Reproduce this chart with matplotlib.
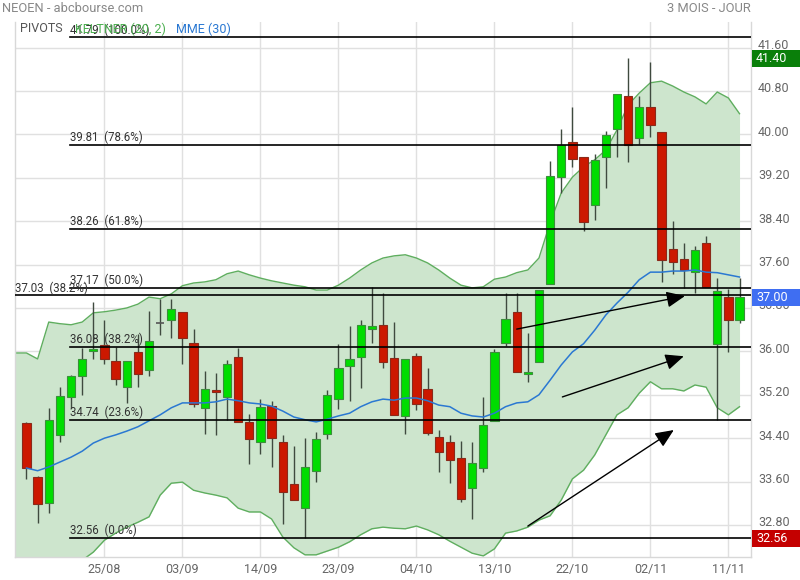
import matplotlib
matplotlib.use('Agg')
import matplotlib.pyplot as plt
import numpy as np
from matplotlib.patches import Rectangle
from matplotlib.transforms import ScaledTranslation, blended_transform_factory

plt.rcParams['font.family'] = ['Roboto', 'DejaVu Sans']

# ---------------- data ----------------
dates = ['25/08', '03/09', '14/09', '23/09', '04/10', '13/10', '22/10', '02/11', '11/11']
date_idx = [7, 14, 21, 28, 35, 42, 49, 56, 63]

opens = [34.68, 33.68, 33.21, 34.46, 35.16, 35.55, 36.01, 36.12, 35.82, 35.34,
         35.99, 35.66, 36.52, 36.58, 36.73, 36.15, 34.96, 35.29, 35.16, 35.90,
         34.70, 34.33, 34.99, 34.33, 33.56, 33.11, 33.80, 34.48, 35.12, 35.73,
         35.90, 36.41, 36.49, 35.88, 34.81, 35.91, 35.31, 34.42, 34.33, 34.03,
         33.48, 33.85, 34.72, 36.15, 36.73, 35.59, 35.80, 37.24, 39.21, 39.86,
         39.58, 38.70, 39.58, 40.10, 40.71, 39.93, 40.50, 40.04, 37.89, 37.70,
         37.46, 38.00, 36.14, 37.00, 36.58]
highs = [34.70, 33.70, 34.96, 35.34, 35.56, 36.06, 36.91, 36.58, 36.08, 35.83,
         36.32, 36.74, 36.97, 36.97, 36.73, 36.41, 35.64, 35.60, 35.84, 36.06,
         34.85, 35.12, 35.09, 34.46, 34.26, 34.40, 34.51, 35.29, 36.14, 36.47,
         36.58, 37.19, 37.08, 36.54, 35.86, 35.97, 35.69, 34.55, 34.46, 34.35,
         34.33, 35.16, 36.04, 37.08, 37.08, 36.34, 37.13, 39.51, 40.10, 40.50,
         39.58, 39.64, 40.06, 40.74, 41.40, 40.71, 41.33, 40.04, 38.40, 38.00,
         37.94, 38.13, 37.35, 37.15, 37.35]
lows = [33.65, 32.84, 33.02, 34.33, 34.96, 35.20, 35.86, 35.77, 35.38, 35.05,
        35.34, 35.55, 36.30, 36.25, 35.77, 34.97, 34.48, 34.46, 34.74, 34.70,
        33.92, 34.11, 33.87, 32.82, 33.26, 32.56, 33.59, 34.38, 34.94, 35.09,
        35.32, 36.15, 35.69, 34.83, 34.48, 34.92, 34.46, 33.78, 33.57, 33.22,
        32.91, 33.78, 34.72, 36.10, 35.62, 35.44, 35.80, 37.24, 38.92, 39.40,
        38.22, 38.42, 39.01, 39.58, 39.49, 39.82, 39.95, 37.28, 37.43, 37.17,
        37.08, 37.19, 34.74, 35.99, 36.52]
closes = [33.85, 33.19, 34.73, 35.18, 35.55, 35.86, 36.04, 35.86, 35.49, 35.82,
          35.58, 36.19, 36.52, 36.78, 36.25, 35.03, 35.31, 35.25, 35.77, 34.70,
          34.38, 34.97, 34.40, 33.41, 33.26, 33.87, 34.38, 35.20, 35.69, 35.86,
          36.49, 36.47, 35.80, 34.83, 35.86, 35.03, 34.50, 34.15, 34.00, 33.28,
          33.94, 34.64, 35.99, 36.60, 35.62, 35.61, 37.13, 39.23, 39.80, 39.55,
          38.38, 39.53, 39.99, 40.74, 39.80, 40.50, 40.17, 37.68, 37.65, 37.50,
          37.87, 37.19, 37.11, 36.58, 37.00]

# Keltner (20, 2) band, from the session before the first candle
keltner_upper = [35.97, 35.97, 35.86, 36.54, 36.51, 36.49, 36.54, 36.71, 36.73, 36.76,
                 36.80, 36.87, 37.00, 36.97, 37.06, 37.21, 37.26, 37.28, 37.32, 37.43,
                 37.48, 37.41, 37.35, 37.30, 37.26, 37.22, 37.19, 37.13, 37.13, 37.22,
                 37.35, 37.50, 37.63, 37.72, 37.76, 37.78, 37.72, 37.63, 37.50, 37.35,
                 37.22, 37.17, 37.19, 37.33, 37.37, 37.45, 37.50, 37.72, 38.37, 38.92,
                 39.21, 39.40, 39.53, 39.71, 40.08, 40.54, 40.76, 40.95, 40.98, 40.89,
                 40.78, 40.69, 40.56, 40.78, 40.67, 40.38]
keltner_lower = [31.30, 31.45, 31.60, 31.75, 31.90, 32.02, 32.15, 32.30, 32.52, 32.65,
                 32.76, 32.85, 32.95, 33.35, 33.57, 33.59, 33.44, 33.39, 33.35, 33.30,
                 33.11, 33.04, 33.04, 32.91, 32.58, 32.38, 32.25, 32.25, 32.32, 32.39,
                 32.49, 32.62, 32.73, 32.76, 32.74, 32.73, 32.78, 32.71, 32.62, 32.50,
                 32.39, 32.28, 32.23, 32.36, 32.65, 32.69, 32.76, 32.89, 32.97, 33.26,
                 33.65, 33.81, 34.09, 34.46, 34.83, 34.96, 35.23, 35.44, 35.31, 35.31,
                 35.27, 35.38, 35.34, 34.96, 34.83, 34.98]

mme30 = [33.85, 33.80, 33.87, 33.96, 34.05, 34.16, 34.31, 34.40, 34.46, 34.53,
         34.61, 34.72, 34.83, 34.96, 35.05, 35.05, 35.05, 35.07, 35.12, 35.09,
         35.05, 35.03, 34.99, 34.90, 34.79, 34.74, 34.70, 34.75, 34.81, 34.86,
         34.98, 35.07, 35.12, 35.10, 35.14, 35.14, 35.09, 35.01, 34.98, 34.86,
         34.81, 34.79, 34.86, 34.98, 35.05, 35.07, 35.20, 35.47, 35.75, 35.99,
         36.14, 36.39, 36.67, 36.89, 37.09, 37.32, 37.46, 37.46, 37.48, 37.48,
         37.50, 37.46, 37.45, 37.41, 37.37]

pivot_values = [41.79, 39.81, 38.26, 37.17, 37.03, 36.08, 34.74, 32.56]
pivot_labels = ['41.79  (100.0%)', '39.81  (78.6%)', '38.26  (61.8%)', '37.17  (50.0%)',
                '37.03  (38.2%)', '36.08  (38.2%)', '34.74  (23.6%)', '32.56  (0.0%)']

y_ticks = [32.80, 33.60, 34.40, 35.20, 36.00, 36.80, 37.60, 38.40, 39.20, 40.00, 40.80, 41.60]
y_tick_labels = ['32.80', '33.60', '34.40', '35.20', '36.00', '36.80', '37.60',
                 '38.40', '39.20', '40.00', '40.80', '41.60']

marker_values = [41.40, 37.00, 32.56]
marker_labels = ['41.40', '37.00', '32.56']

# arrows: (start index, start price, end index, end price)
arrow_start_x = [44.0, 48.1, 45.0]
arrow_start_y = [36.41, 35.16, 32.78]
arrow_end_x = [59.1, 59.0, 58.1]
arrow_end_y = [37.02, 35.91, 34.55]

# ---------------- figure ----------------
W, H = 800, 580
fig = plt.figure(figsize=(W / 100, H / 100), dpi=100)
fig.patch.set_facecolor('white')
ax = fig.add_axes([15 / W, 23 / H, 736 / W, 535 / H])
ax.set_xlim(-1.03, 65.03)
ax.set_ylim(32.21, 42.07)

# grid
for xi in date_idx:
    ax.axvline(xi, color='#e0e0e0', lw=1, zorder=0)
for yv in y_ticks:
    ax.axhline(yv, color='#e0e0e0', lw=1, zorder=0)

# Keltner band
bx = np.arange(-1, len(opens))
ax.fill_between(bx, keltner_lower, keltner_upper, color='#cde5cd', lw=0, zorder=1)
ax.plot(bx, keltner_upper, color='#5fae5f', lw=1, zorder=2)
ax.plot(bx, keltner_lower, color='#5fae5f', lw=1, zorder=2)

# candles
bw = 0.74
for i, (o, h, l, c) in enumerate(zip(opens, highs, lows, closes)):
    ax.vlines(i, l, h, color='#3f4a3f', lw=1, zorder=3)
    if abs(c - o) < 0.005:
        ax.hlines(o, i - bw / 2, i + bw / 2, color='#555555', lw=1.2, zorder=4)
        continue
    if c > o:
        fc, ec = '#00dd00', '#3b8f3b'
    else:
        fc, ec = '#cc1800', '#8a2a1a'
    ax.add_patch(Rectangle((i - bw / 2, min(o, c)), bw, max(abs(c - o), 0.03),
                           facecolor=fc, edgecolor=ec, lw=0.8, zorder=4))

# MME 30
ax.plot(np.arange(len(mme30)), mme30, color='#2a78d2', lw=1.1, zorder=5)

# pivots
label_start = 55 / 736
for v, lab in zip(pivot_values, pivot_labels):
    start = 0.0 if lab.startswith('37.03') else label_start
    ax.axhline(v, xmin=start, xmax=1, color='black', lw=1.2, zorder=6)
    tr = blended_transform_factory(ax.transAxes, ax.transData)
    ax.text(start, v, lab, transform=tr + ScaledTranslation(0, 0.5 / 100, fig.dpi_scale_trans),
            ha='left', va='bottom', fontsize=8.3, color='#333333', zorder=7)

# arrows
for sx, sy, ex, ey in zip(arrow_start_x, arrow_start_y, arrow_end_x, arrow_end_y):
    ax.annotate('', xy=(ex, ey), xytext=(sx, sy),
                arrowprops=dict(arrowstyle='-|>,head_length=0.8,head_width=0.35',
                                color='black', lw=1, mutation_scale=14,
                                shrinkA=0, shrinkB=0), zorder=8)

# axes styling
for s in ax.spines.values():
    s.set_color('#d8d8d8')
    s.set_linewidth(1)
ax.spines['top'].set_visible(False)
ax.set_xticks(date_idx)
ax.set_xticklabels(dates)
ax.tick_params(axis='x', length=0, pad=4.5, labelsize=9, labelcolor='#666666')
ax.yaxis.tick_right()
ax.set_yticks(y_ticks)
ax.set_yticklabels(y_tick_labels)
ax.tick_params(axis='y', length=0, pad=5, labelsize=9, labelcolor='#666666')
for t in ax.get_yticklabels():
    t.set_transform(t.get_transform() + ScaledTranslation(0, 3.5 / 100, fig.dpi_scale_trans))

# price markers on right axis
marker_colors = ['#0a7f0a', '#3f6ef2', '#c40000']
trm = blended_transform_factory(ax.transAxes, ax.transData)
box_h = 17 / 54.25
for v, lab, col in zip(marker_values, marker_labels, marker_colors):
    ax.add_patch(Rectangle((1 + 1 / 736, v - box_h / 2), 50 / 736, box_h, transform=trm,
                           facecolor=col, edgecolor='none', clip_on=False, zorder=10))
    ax.text(1 + 5 / 736, v, lab, transform=trm, ha='left', va='center', fontsize=9,
            color='white', zorder=11, clip_on=False)

# legend / header
fig.text(2 / W, 1 - 9 / H, 'NEOEN - abcbourse.com', ha='left', va='center', fontsize=9.3, color='#888888')
fig.text(751 / W, 1 - 9 / H, '3 MOIS - JOUR', ha='right', va='center', fontsize=9.3, color='#888888')
fig.text(20 / W, 1 - 29 / H, 'PIVOTS', ha='left', va='center', fontsize=9, color='#555555')
fig.text(75 / W, 1 - 29 / H, 'KELTNER (20, 2)', ha='left', va='center', fontsize=9, color='#4caf50')
fig.text(176 / W, 1 - 29 / H, 'MME (30)', ha='left', va='center', fontsize=9, color='#2a78d2')

fig.savefig('out.png', dpi=100)
